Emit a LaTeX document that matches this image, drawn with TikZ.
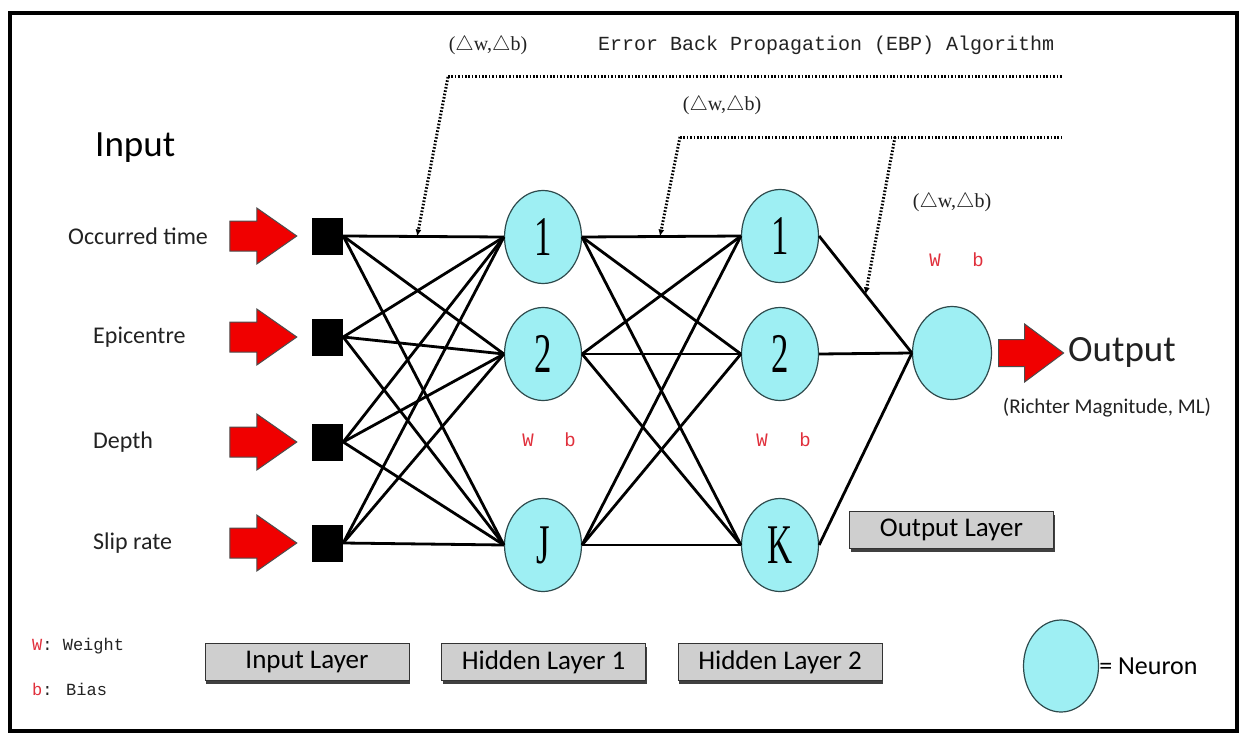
\documentclass[tikz,border=0pt]{standalone}
\usepackage{fontspec}
\setmainfont{Liberation Serif}
\newfontfamily\labfont{Carlito}
\newfontfamily\ebpfont{Liberation Mono}
\usepackage{graphicx}
\usetikzlibrary{arrows.meta,positioning,shapes.geometric,calc,shadows}
\definecolor{neuron}{HTML}{9EEFF3}
\definecolor{rim}{HTML}{2E4A4C}
\definecolor{wbred}{HTML}{E0303C}
\definecolor{arrowred}{HTML}{F00000}
\definecolor{boxgray}{HTML}{CFCFCF}
\definecolor{ink}{HTML}{222222}
\newcommand{\nnum}[1]{\fontsize{56}{56}\selectfont\scalebox{0.62}[1]{#1}}
\newcommand{\dwdb}{($\triangle$w,$\triangle$b)}

\begin{document}
\begin{tikzpicture}[x=1pt,y=-1pt,
  neuron/.style={ellipse,draw=rim,line width=1.2pt,fill=neuron,minimum width=77pt,minimum height=93pt,inner sep=0pt},
  inbox/.style={rectangle,fill=black,minimum width=31pt,minimum height=37pt,inner sep=0pt},
  layerbox/.style={rectangle,draw=black!80,line width=1pt,fill=boxgray,minimum width=204pt,minimum height=37pt,inner sep=0pt,
    font=\labfont\fontsize{27}{27}\selectfont,drop shadow={shadow xshift=1pt,shadow yshift=-3pt,fill=black!75,opacity=1}},
  inlab/.style={anchor=west,inner sep=0pt,text=ink,font=\labfont\fontsize{24}{24}\selectfont},
  link/.style={line width=2.8pt},
  ebp/.style={line width=3pt,dash pattern=on 1.6pt off 1.8pt,-{Latex[length=7pt,width=6pt]}},
  ebpline/.style={line width=3pt,dash pattern=on 1.6pt off 1.8pt},
  redarrow/.style={fill=arrowred,draw=black!70,line width=1pt,line join=miter},
  wb/.style={text=wbred,inner sep=0pt,font=\ebpfont\fontsize{19}{19}\selectfont},
  dlab/.style={inner sep=0pt,text=ink,font=\fontsize{20}{20}\selectfont}]
  \useasboundingbox (0,0) rectangle (1244,733);
  \draw[line width=3.5pt] (10,13) rectangle (1237,731);

  % input side
  \node[anchor=west,inner sep=0pt,font=\labfont\fontsize{37}{37}\selectfont] (inhead) at (95,148) {Input};
  \foreach \i/\y in {1/236,2/337,3/442,4/543}
    \node[inbox] (in\i) at (327.5,\y) {};
  \node[inlab] (lab1) at (68,236) {Occurred time};
  \node[inlab] (lab2) at (93,337) {Epicentre};
  \node[inlab] (lab3) at (93,442) {Depth};
  \node[inlab] (lab4) at (93,543) {Slip rate};
  \foreach \i in {1,...,4}
    \draw[redarrow] ($(in\i.west)+(-82,-15)$) -- ++(27,0) -- ++(0,-13) -- ++(40,28)
      -- ++(-40,28) -- ++(0,-13) -- ++(-27,0) -- cycle;

  % hidden layers and output neuron
  \node[neuron] (ha1) at (543,237) {\nnum{1}};
  \node[neuron] (ha2) at (543,354) {\nnum{2}};
  \node[neuron] (ha3) at (543,545) {\nnum{J}};
  \node[neuron] (hb1) at (780,236) {\nnum{1}};
  \node[neuron] (hb2) at (780,354) {\nnum{2}};
  \node[neuron] (hb3) at (780,545) {\nnum{K}};
  \node[neuron,minimum width=79pt] (out) at (952,353) {};

  \foreach \i in {1,...,4}
    \foreach \j in {1,2,3}
      \draw[link] (in\i.east) -- (ha\j.west);
  \foreach \i in {1,2,3}
    \foreach \j in {1,2,3}
      \draw[link] (ha\i.east) -- (hb\j.west);
  \foreach \i in {1,2,3}
    \draw[link] (hb\i.east) -- (out.west);

  \draw[redarrow] ($(out.east)+(6.5,-13.5)$) -- ++(26,0) -- ++(0,-15.5) -- ++(39,29)
    -- ++(-39,29) -- ++(0,-15.5) -- ++(-26,0) -- cycle;
  \node[anchor=west,inner sep=0pt,text=ink,font=\labfont\fontsize{37}{37}\selectfont] (outlab) at (1068,352) {Output};
  \node[inner sep=0pt,text=ink,font=\labfont\fontsize{21}{21}\selectfont] (outsub) at (1107,408) {(Richter Magnitude, ML)};

  % weights and biases
  \node[wb] (wa) at (528,440) {W};  \node[wb] (ba) at (570,440) {b};
  \node[wb] (wb2) at (762,440) {W}; \node[wb] (bb) at (805,440) {b};
  \node[wb] (wo) at (935,260) {W};  \node[wb] (bo) at (978,260) {b};

  % error back propagation
  \node[dlab] (d1) at (488,45) {\dwdb};
  \node[anchor=west,inner sep=0pt,text=ink,font=\ebpfont\fontsize{20}{20}\selectfont] (ebptxt) at (598,45) {Error Back Propagation (EBP) Algorithm};
  \node[dlab] (d2) at (722,105) {\dwdb};
  \node[dlab] (d3) at (952,202) {\dwdb};
  \coordinate (t1) at (448,77);
  \coordinate (e1) at (1063,77);
  \coordinate (t2) at (680,137);
  \coordinate (e2) at (1063,137);
  \coordinate (t3) at (895,137);
  \draw[ebpline] (t1) -- (e1);
  \draw[ebpline] (t2) -- (e2);
  \draw[ebp] (t1) -- ($(in1.east)!0.46!(ha1.west)$);
  \draw[ebp] (t2) -- ($(ha1.east)!0.49!(hb1.west)$);
  \draw[ebp] (t3) -- ($(hb1.east)!0.5!(out.west)$);

  % layer names
  \node[layerbox] (linput) at (307,662) {Input Layer};
  \node[layerbox] (lhid1) at (543.5,662) {Hidden Layer 1};
  \node[layerbox] (lhid2) at (780,662) {Hidden Layer 2};
  \node[layerbox] (lout) at (951.5,530) {Output Layer};

  % legend
  \node[anchor=west,inner sep=0pt,font=\ebpfont\fontsize{17}{17}\selectfont] (legw) at (32,646) {\textcolor{wbred}{W}\textcolor{ink}{ : Weight}};
  \node[anchor=west,inner sep=0pt,font=\ebpfont\fontsize{17}{17}\selectfont] (legb) at (32,689) {\textcolor{wbred}{b}\textcolor{ink}{ : Bias}};
  \node[neuron,minimum width=75pt,minimum height=92pt] (legn) at (1061,666) {};
  \node[anchor=west,inner sep=0pt,font=\labfont\fontsize{26}{26}\selectfont] (legtxt) at (legn.east) {= Neuron};
\end{tikzpicture}
\end{document}
